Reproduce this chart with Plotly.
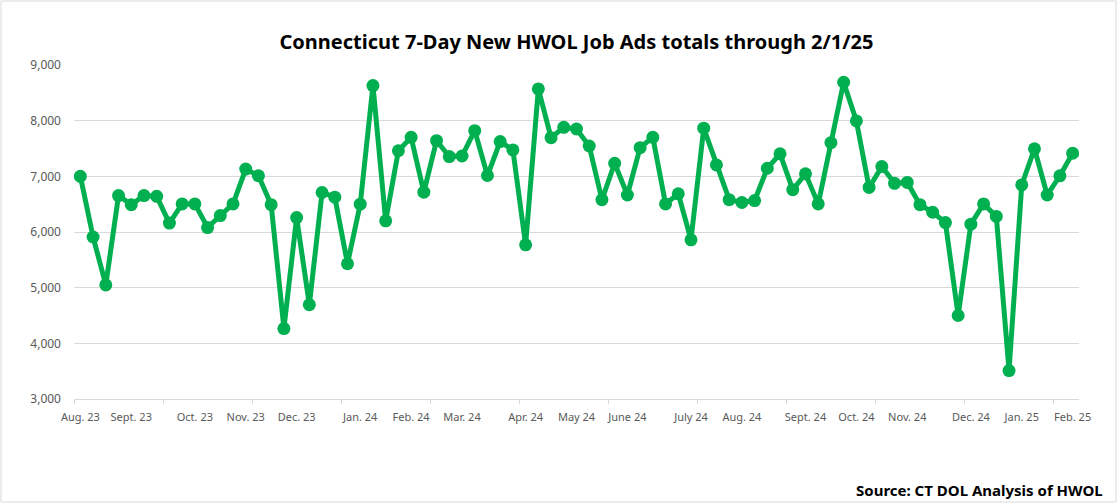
import plotly.graph_objects as go

# Weekly 7-day new HWOL job ads, week ending Saturdays from Aug 5 2023 through Feb 1 2025
week_index = list(range(79))
job_ads = [
    7000, 5910, 5050, 6655, 6490, 6655, 6640, 6160, 6505, 6505,
    6080, 6295, 6505, 7130, 7010, 6490, 4265, 6260, 4695, 6710,
    6625, 5430, 6500, 8630, 6200, 7460, 7700, 6715, 7640, 7355,
    7365, 7820, 7015, 7625, 7475, 5770, 8570, 7695, 7880, 7850,
    7545, 6580, 7235, 6665, 7515, 7700, 6505, 6685, 5860, 7865,
    7205, 6580, 6530, 6565, 7145, 7405, 6760, 7045, 6505, 7605,
    8690, 7995, 6800, 7175, 6875, 6890, 6490, 6355, 6170, 4500,
    6140, 6505, 6280, 3510, 6845, 7495, 6665, 7010, 7415,
]

# Month labels placed on the first week of each month
label_index = [0, 4, 9, 13, 17, 22, 26, 30, 35, 39, 43, 48, 52, 57, 61, 65, 70, 74, 78]
label_text = [
    "Aug. 23", "Sept. 23", "Oct. 23", "Nov. 23", "Dec. 23", "Jan. 24",
    "Feb. 24", "Mar. 24", "Apr. 24", "May 24", "June 24", "July 24",
    "Aug. 24", "Sept. 24", "Oct. 24", "Nov. 24", "Dec. 24", "Jan. 25", "Feb. 25",
]

GREEN = "#00B050"
GRID = "#D9D9D9"
TXT = "#595959"
FONT = "Noto Sans"

W, H = 1118, 503
L, R, T, B = 74, 39, 65, 104

fig = go.Figure()
fig.add_trace(go.Scatter(
    x=week_index, y=job_ads, mode="lines+markers",
    line=dict(color=GREEN, width=5),
    marker=dict(color=GREEN, size=13),
    hoverinfo="y", showlegend=False,
))

fig.update_layout(
    width=W, height=H,
    margin=dict(l=L, r=R, t=T, b=B, pad=0),
    paper_bgcolor="white", plot_bgcolor="white",
    font=dict(family=FONT, color=TXT),
    title=dict(
        text="<b>Connecticut 7-Day New HWOL Job Ads totals through 2/1/25</b>",
        font=dict(family=FONT, size=20, color="black"),
        x=(L + (W - L - R) / 2) / W, xanchor="center",
        y=1 - 42 / H, yanchor="middle",
    ),
    xaxis=dict(
        range=[-0.5, 78.5],
        tickmode="array", tickvals=label_index, ticktext=label_text,
        ticks="outside", ticklen=8, tickcolor="rgba(0,0,0,0)",
        tickfont=dict(family=FONT, size=11, color=TXT),
        showgrid=False, zeroline=False,
        showline=True, linecolor=GRID, linewidth=1,
        minor=dict(tickmode="linear", tick0=-0.5, dtick=7, ticks="outside",
                   ticklen=4, tickcolor=GRID, showgrid=False),
        fixedrange=True,
    ),
    yaxis=dict(
        range=[3000, 9000], dtick=1000, tickformat=",",
        showgrid=True, gridcolor=GRID, gridwidth=1,
        zeroline=False, showline=False,
        tickfont=dict(family=FONT, size=12, color=TXT),
        ticklabelstandoff=12,
        fixedrange=True,
    ),
)

# chart-area border
fig.add_shape(
    type="rect", xref="paper", yref="paper",
    x0=-(L - 1) / (W - L - R), x1=1 + (R - 2) / (W - L - R),
    y0=-(B - 1) / (H - T - B), y1=1 + (T - 1) / (H - T - B),
    line=dict(color=GRID, width=1), fillcolor="rgba(0,0,0,0)", layer="below",
)

fig.add_annotation(
    text="<b>Source: CT DOL Analysis of HWOL</b>",
    xref="paper", yref="paper",
    x=1 + (R - 13) / (W - L - R), xanchor="right",
    y=-(490 - (H - B)) / (H - T - B), yanchor="middle",
    showarrow=False, font=dict(family=FONT, size=15, color="black"),
)

fig.write_html("out.html", config={"displayModeBar": False},
               post_script="document.body.style.margin='0px';")
